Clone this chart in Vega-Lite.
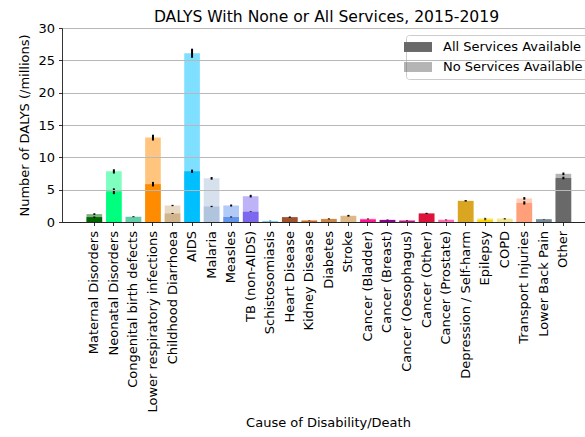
{
  "$schema": "https://vega.github.io/schema/vega-lite/v6.json",
  "width": 523,
  "height": 194,
  "autosize": {"type": "none"},
  "padding": {"left": 62, "top": 28, "right": 0, "bottom": 215},
  "background": "white",
  "config": {"font": "DejaVu Sans", "view": {"stroke": null}},
  "title": {"text": "DALYS With None or All Services, 2015-2019", "fontSize": 15.6, "fontWeight": "normal", "color": "black", "anchor": "middle", "frame": "group", "baseline": "alphabetic", "offset": 8, "dx": 3, "dy": 24},
  "data": {"values": [
    {"cause": "Maternal Disorders", "service": "No Services Available", "value": 1.22, "lo": 1.1, "hi": 1.35},
    {"cause": "Neonatal Disorders", "service": "No Services Available", "value": 7.85, "lo": 7.5, "hi": 8.15},
    {"cause": "Congenital birth defects", "service": "No Services Available", "value": 0.85, "lo": 0.8, "hi": 0.9},
    {"cause": "Lower respiratory infections", "service": "No Services Available", "value": 13.05, "lo": 12.6, "hi": 13.5},
    {"cause": "Childhood Diarrhoea", "service": "No Services Available", "value": 2.55, "lo": 2.45, "hi": 2.65},
    {"cause": "AIDS", "service": "No Services Available", "value": 26.1, "lo": 25.4, "hi": 26.8},
    {"cause": "Malaria", "service": "No Services Available", "value": 6.75, "lo": 6.55, "hi": 6.95},
    {"cause": "Measles", "service": "No Services Available", "value": 2.55, "lo": 2.4, "hi": 2.7},
    {"cause": "TB (non-AIDS)", "service": "No Services Available", "value": 4.0, "lo": 3.8, "hi": 4.2},
    {"cause": "Schistosomiasis", "service": "No Services Available", "value": 0.2, "lo": 0.18, "hi": 0.22},
    {"cause": "Heart Disease", "service": "No Services Available", "value": 0.78, "lo": 0.72, "hi": 0.85},
    {"cause": "Kidney Disease", "service": "No Services Available", "value": 0.25, "lo": 0.23, "hi": 0.27},
    {"cause": "Diabetes", "service": "No Services Available", "value": 0.5, "lo": 0.45, "hi": 0.55},
    {"cause": "Stroke", "service": "No Services Available", "value": 1.0, "lo": 0.9, "hi": 1.1},
    {"cause": "Cancer (Bladder)", "service": "No Services Available", "value": 0.5, "lo": 0.46, "hi": 0.54},
    {"cause": "Cancer (Breast)", "service": "No Services Available", "value": 0.35, "lo": 0.32, "hi": 0.38},
    {"cause": "Cancer (Oesophagus)", "service": "No Services Available", "value": 0.25, "lo": 0.22, "hi": 0.28},
    {"cause": "Cancer (Other)", "service": "No Services Available", "value": 1.35, "lo": 1.28, "hi": 1.42},
    {"cause": "Cancer (Prostate)", "service": "No Services Available", "value": 0.4, "lo": 0.37, "hi": 0.43},
    {"cause": "Depression / Self-harm", "service": "No Services Available", "value": 3.3, "lo": 3.22, "hi": 3.38},
    {"cause": "Epilepsy", "service": "No Services Available", "value": 0.57, "lo": 0.5, "hi": 0.64},
    {"cause": "COPD", "service": "No Services Available", "value": 0.57, "lo": 0.52, "hi": 0.62},
    {"cause": "Transport Injuries", "service": "No Services Available", "value": 3.65, "lo": 3.45, "hi": 3.85},
    {"cause": "Lower Back Pain", "service": "No Services Available", "value": 0.45, "lo": 0.43, "hi": 0.47},
    {"cause": "Other", "service": "No Services Available", "value": 7.45, "lo": 7.25, "hi": 7.65},
    {"cause": "Maternal Disorders", "service": "All Services Available", "value": 0.75, "lo": 0.65, "hi": 0.85},
    {"cause": "Neonatal Disorders", "service": "All Services Available", "value": 4.75, "lo": 4.3, "hi": 5.2},
    {"cause": "Congenital birth defects", "service": "All Services Available", "value": 0.78, "lo": 0.74, "hi": 0.82},
    {"cause": "Lower respiratory infections", "service": "All Services Available", "value": 5.85, "lo": 5.5, "hi": 6.2},
    {"cause": "Childhood Diarrhoea", "service": "All Services Available", "value": 1.32, "lo": 1.25, "hi": 1.4},
    {"cause": "AIDS", "service": "All Services Available", "value": 7.85, "lo": 7.6, "hi": 8.1},
    {"cause": "Malaria", "service": "All Services Available", "value": 2.4, "lo": 2.3, "hi": 2.5},
    {"cause": "Measles", "service": "All Services Available", "value": 0.78, "lo": 0.7, "hi": 0.86},
    {"cause": "TB (non-AIDS)", "service": "All Services Available", "value": 1.6, "lo": 1.55, "hi": 1.65},
    {"cause": "Schistosomiasis", "service": "All Services Available", "value": 0.15, "lo": 0.13, "hi": 0.17},
    {"cause": "Heart Disease", "service": "All Services Available", "value": 0.72, "lo": 0.66, "hi": 0.78},
    {"cause": "Kidney Disease", "service": "All Services Available", "value": 0.2, "lo": 0.18, "hi": 0.22},
    {"cause": "Diabetes", "service": "All Services Available", "value": 0.45, "lo": 0.41, "hi": 0.49},
    {"cause": "Stroke", "service": "All Services Available", "value": 0.92, "lo": 0.85, "hi": 0.99},
    {"cause": "Cancer (Bladder)", "service": "All Services Available", "value": 0.38, "lo": 0.35, "hi": 0.41},
    {"cause": "Cancer (Breast)", "service": "All Services Available", "value": 0.3, "lo": 0.27, "hi": 0.33},
    {"cause": "Cancer (Oesophagus)", "service": "All Services Available", "value": 0.2, "lo": 0.17, "hi": 0.23},
    {"cause": "Cancer (Other)", "service": "All Services Available", "value": 1.3, "lo": 1.24, "hi": 1.36},
    {"cause": "Cancer (Prostate)", "service": "All Services Available", "value": 0.3, "lo": 0.27, "hi": 0.33},
    {"cause": "Depression / Self-harm", "service": "All Services Available", "value": 3.25, "lo": 3.18, "hi": 3.32},
    {"cause": "Epilepsy", "service": "All Services Available", "value": 0.35, "lo": 0.28, "hi": 0.42},
    {"cause": "COPD", "service": "All Services Available", "value": 0.45, "lo": 0.4, "hi": 0.5},
    {"cause": "Transport Injuries", "service": "All Services Available", "value": 2.95, "lo": 2.7, "hi": 3.2},
    {"cause": "Lower Back Pain", "service": "All Services Available", "value": 0.42, "lo": 0.4, "hi": 0.44},
    {"cause": "Other", "service": "All Services Available", "value": 6.8, "lo": 6.6, "hi": 7.0}
  ]},
  "encoding": {
    "x": {
      "field": "cause", "type": "nominal", "sort": null,
      "scale": {"paddingInner": 0.2, "paddingOuter": 0.98, "align": 0.64},
      "axis": {"title": "Cause of Disability/Death", "labelAngle": -90, "labelFontSize": 13, "labelColor": "black", "labelPadding": 5, "labelLimit": 300, "tickColor": "black", "tickSize": 3.5, "tickWidth": 0.8, "domainColor": "black", "domainWidth": 0.8, "titleFontSize": 13, "titleFontWeight": "normal", "titleColor": "black", "titlePadding": 4, "titleX": 266, "grid": false, "zindex": 1}
    }
  },
  "layer": [
    {
      "mark": {"type": "bar"},
      "encoding": {
        "y": {"field": "value", "type": "quantitative", "stack": null, "title": "Number of DALYS (/millions)",
          "scale": {"domain": [0, 30], "nice": false},
          "axis": {"values": [0, 5, 10, 15, 20, 25, 30], "labelOverlap": false, "grid": true, "gridColor": "#b8b8b8", "gridWidth": 1, "domainColor": "black", "domainWidth": 0.8, "tickColor": "black", "tickSize": 3.5, "tickWidth": 0.8, "labelFontSize": 13, "labelColor": "black", "labelPadding": 4, "titleFontSize": 13, "titleFontWeight": "normal", "titleColor": "black", "titlePadding": 6, "zindex": 1}},
        "color": {"field": "cause", "type": "nominal", "legend": null,
          "scale": {
            "domain": ["Maternal Disorders", "Neonatal Disorders", "Congenital birth defects", "Lower respiratory infections", "Childhood Diarrhoea", "AIDS", "Malaria", "Measles", "TB (non-AIDS)", "Schistosomiasis", "Heart Disease", "Kidney Disease", "Diabetes", "Stroke", "Cancer (Bladder)", "Cancer (Breast)", "Cancer (Oesophagus)", "Cancer (Other)", "Cancer (Prostate)", "Depression / Self-harm", "Epilepsy", "COPD", "Transport Injuries", "Lower Back Pain", "Other"],
            "range": ["#006400", "#00FF7F", "#66CDAA", "#FF8C00", "#D2B48C", "#00BFFF", "#B0C4DE", "#6495ED", "#7B68EE", "#87CEEB", "#A0522D", "#D2691E", "#CD853F", "#DEB887", "#FF1493", "#8B008B", "#C71585", "#DC143C", "#FF69B4", "#DAA520", "#FFD700", "#F0E68C", "#FFA07A", "#778899", "#696969"]
          }},
        "opacity": {"field": "service", "type": "ordinal",
          "scale": {"domain": ["All Services Available", "No Services Available"], "range": [1, 0.5]},
          "legend": {"title": null, "orient": "none", "legendX": 344, "legendY": 7, "symbolType": "M-2,-0.71h4v1.42h-4z", "symbolSize": 196, "symbolFillColor": "#696969", "symbolStrokeWidth": 0, "labelFontSize": 13, "labelColor": "black", "labelOffset": 18, "padding": 5, "rowPadding": 6, "fillColor": "rgba(255,255,255,0.8)", "strokeColor": "#cccccc", "cornerRadius": 3,
            "encode": {"symbols": {"update": {"fill": {"value": "#696969"}, "strokeWidth": {"value": 0}}}}}
        }
      }
    },
    {
      "mark": {"type": "rule", "color": "black", "strokeWidth": 2},
      "encoding": {
        "y": {"field": "lo", "type": "quantitative", "title": "Number of DALYS (/millions)",
          "axis": {"values": [0, 5, 10, 15, 20, 25, 30], "labelOverlap": false, "grid": true, "gridColor": "#b8b8b8", "gridWidth": 1, "domainColor": "black", "domainWidth": 0.8, "tickColor": "black", "tickSize": 3.5, "tickWidth": 0.8, "labelFontSize": 13, "labelColor": "black", "labelPadding": 4, "titleFontSize": 13, "titleFontWeight": "normal", "titleColor": "black", "titlePadding": 6, "zindex": 1}},
        "y2": {"field": "hi"}
      }
    }
  ]
}
